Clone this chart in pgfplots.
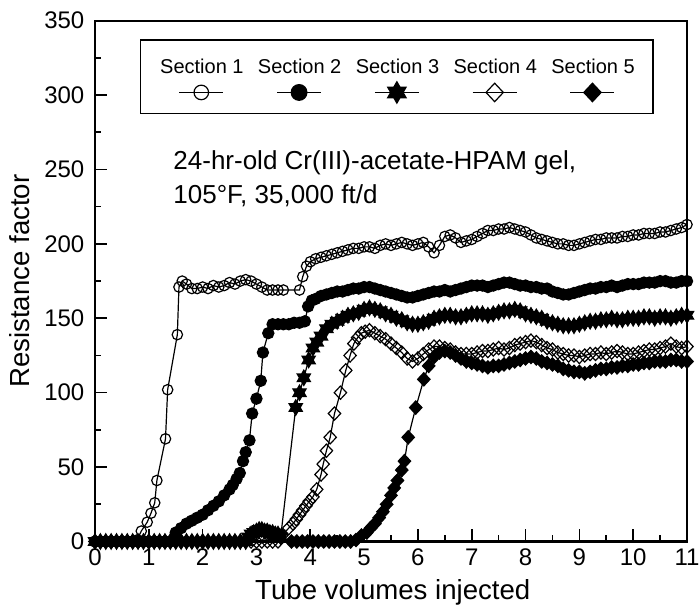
\documentclass[border=0pt]{standalone}
\usepackage{pgfplots}
\pgfplotsset{compat=1.18}
\usepackage{fontspec}
\setmainfont{Liberation Sans}

% six-pointed filled star for section 3
\pgfdeclareplotmark{hexstar}{%
  \pgfpathmoveto{\pgfqpointpolar{90}{\pgfplotmarksize}}%
  \pgfpathlineto{\pgfqpointpolar{210}{\pgfplotmarksize}}%
  \pgfpathlineto{\pgfqpointpolar{330}{\pgfplotmarksize}}%
  \pgfpathclose
  \pgfpathmoveto{\pgfqpointpolar{270}{\pgfplotmarksize}}%
  \pgfpathlineto{\pgfqpointpolar{30}{\pgfplotmarksize}}%
  \pgfpathlineto{\pgfqpointpolar{150}{\pgfplotmarksize}}%
  \pgfpathclose
  \pgfusepathqfillstroke}

\begin{document}
\begin{tikzpicture}
  \begin{axis}[
    scale only axis,
    width=296pt, height=260.4pt,
    xmin=0, xmax=11, ymin=0, ymax=350,
    xtick={0,1,...,11}, ytick={0,50,...,350},
    minor x tick num=1, minor y tick num=1,
    tick align=inside, xtick pos=bottom, ytick pos=left,
    major tick length=6pt, minor tick length=3pt,
    tick style={black, line width=0.8pt},
    axis line style={line width=1.1pt},
    /pgf/number format/assume math mode=true,
    ticklabel style={font=\fontsize{12}{14}\selectfont},
    yticklabel style={xshift=-1.8pt},
    xlabel={Tube volumes injected},
    ylabel={Resistance factor},
    label style={font=\fontsize{13.8}{16}\selectfont},
    xlabel style={at={(axis description cs:0.503,-0.1123)}, anchor=base},
    ylabel style={at={(axis description cs:-0.11,0.5)}, anchor=base},
    clip=false,
    legend columns=5,
    legend image code/.code={%
      \path (0pt,9pt) (0pt,-20pt);
      \draw[overlay,mark repeat=2,mark phase=2,#1,/tikz/every mark/.append style={scale=1.4}]
        plot coordinates {(9.85pt,-13.25pt)(20.85pt,-13.25pt)(31.85pt,-13.25pt)};
    },
    legend style={
      at={(0.0755,0.964)}, anchor=north west,
      draw=black, line width=0.9pt,
      inner xsep=9.2pt, inner ysep=3.5pt,
      column sep=0pt,
      font=\fontsize{10}{12}\selectfont,
      cells={anchor=west},
      nodes={inner xsep=0pt, inner ysep=0pt, text depth=0pt},
      /tikz/every even column/.append style={column sep=6.6pt}},
  ]
    \coordinate (sw) at (rel axis cs:0,0);
    \coordinate (ne) at (rel axis cs:1,1);

    % Section 1
    \addplot[black, line width=0.6pt, mark=o, mark size=2.6pt, mark options={line width=0.6pt}] coordinates {
      (0,0)(0.1,0)(0.2,0)(0.3,0)(0.4,0)(0.5,0)(0.6,0)(0.7,0)(0.78,1)(0.86,7)(0.97,13)(1.04,19)(1.11,26)(1.15,41)
      (1.31,69)(1.35,102)(1.53,139)(1.56,171)(1.62,175)(1.7,173)(1.8,170)(1.9,170)(2.0,171)(2.1,170)(2.2,172)
      (2.3,171)(2.4,172)(2.5,174)(2.6,173)(2.7,175)(2.8,176)(2.9,175)(3.0,173)(3.1,171)(3.2,169)(3.3,169)
      (3.4,169)(3.5,169)(3.8,169)(3.86,178)(3.93,185)(4.0,188)(4.1,190)(4.2,191)(4.3,192)(4.4,193)(4.5,194)
      (4.6,195)(4.7,196)(4.8,197)(4.9,197)(5.0,198)(5.1,198)(5.2,197)(5.3,199)(5.4,200)(5.5,199)(5.6,200)
      (5.7,201)(5.8,200)(5.9,199)(6.0,200)(6.1,201)(6.2,198)(6.3,194)(6.4,199)(6.5,205)(6.6,206)(6.7,204)
      (6.8,201)(6.9,202)(7.0,203)(7.1,205)(7.2,207)(7.3,209)(7.4,209)(7.5,210)(7.6,210)(7.7,211)(7.8,210)
      (7.9,209)(8.0,208)(8.1,206)(8.2,204)(8.3,203)(8.4,202)(8.5,201)(8.6,200)(8.7,200)(8.8,199)(8.9,199)
      (9.0,200)(9.1,201)(9.2,202)(9.3,203)(9.4,203)(9.5,204)(9.6,204)(9.7,204)(9.8,205)(9.9,205)(10.0,206)
      (10.1,206)(10.2,207)(10.3,207)(10.4,207)(10.5,208)(10.6,208)(10.7,209)(10.8,210)(10.9,211)(11.0,213)
    };
    \addlegendentry{Section 1}

    % Section 2
    \addplot[black, line width=0.6pt, mark=*, mark size=2.8pt] coordinates {
      (0,0)(0.1,0)(0.2,0)(0.3,0)(0.4,0)(0.5,0)(0.6,0)(0.7,0)(0.8,0)(0.9,0)(1.0,0)(1.1,0)(1.2,0)(1.3,0)(1.4,0)
      (1.5,6)(1.6,9)(1.7,12)(1.8,14)(1.9,16)(2.0,18)(2.1,21)(2.2,24)(2.3,27)(2.4,31)(2.5,35)(2.56,38)(2.63,42)
      (2.69,46)(2.75,54)(2.8,60)(2.87,68)(2.92,86)(3.0,96)(3.08,108)(3.12,127)(3.22,140)(3.3,146)(3.4,146)
      (3.5,146)(3.6,146)(3.7,147)(3.8,147)(3.9,148)(3.96,158)(4.03,162)(4.1,163)(4.2,165)(4.3,166)(4.4,167)
      (4.5,168)(4.6,168)(4.7,169)(4.8,170)(4.9,170)(5.0,171)(5.1,171)(5.2,170)(5.3,169)(5.4,168)(5.5,167)
      (5.6,166)(5.7,165)(5.8,164)(5.9,164)(6.0,165)(6.1,166)(6.2,167)(6.3,168)(6.4,168)(6.5,169)(6.6,168)
      (6.7,169)(6.8,170)(6.9,171)(7.0,172)(7.1,172)(7.2,172)(7.3,171)(7.4,172)(7.5,173)(7.6,174)(7.7,174)
      (7.8,173)(7.9,172)(8.0,172)(8.1,171)(8.2,171)(8.3,170)(8.4,170)(8.5,168)(8.6,167)(8.7,166)(8.8,166)
      (8.9,167)(9.0,168)(9.1,169)(9.2,170)(9.3,170)(9.4,171)(9.5,171)(9.6,172)(9.7,171)(9.8,172)(9.9,173)
      (10.0,173)(10.1,173)(10.2,174)(10.3,174)(10.4,174)(10.5,175)(10.6,175)(10.7,174)(10.8,174)(10.9,175)(11.0,175)
    };
    \addlegendentry{Section 2}

    % Section 3
    \addplot[black, line width=0.6pt, mark=hexstar, mark size=3.8pt] coordinates {
      (0,0)(0.1,0)(0.2,0)(0.3,0)(0.4,0)(0.5,0)(0.6,0)(0.7,0)(0.8,0)(0.9,0)(1.0,0)(1.1,0)(1.2,0)(1.3,0)(1.4,0)
      (1.5,0)(1.6,0)(1.7,0)(1.8,0)(1.9,0)(2.0,0)(2.1,0)(2.2,0)(2.3,0)(2.4,0)(2.5,0)(2.6,0)(2.7,0)(2.8,0)
      (2.85,3)(2.9,5)(2.95,6)(3.0,7)(3.05,8)(3.1,8)(3.15,7)(3.2,7)(3.25,6)(3.3,6)(3.35,5)(3.4,5)(3.45,3)
      (3.73,90)(3.8,100)(3.88,110)(3.97,122)(4.05,130)(4.12,134)(4.2,138)(4.3,143)(4.4,146)(4.5,148)(4.6,150)
      (4.7,152)(4.8,153)(4.9,154)(5.0,156)(5.1,157)(5.2,156)(5.3,155)(5.4,153)(5.5,152)(5.6,150)(5.7,149)
      (5.8,147)(5.9,146)(6.0,146)(6.1,147)(6.2,148)(6.3,150)(6.4,151)(6.5,152)(6.6,152)(6.7,151)(6.8,151)
      (6.9,152)(7.0,153)(7.1,153)(7.2,153)(7.3,152)(7.4,153)(7.5,154)(7.6,155)(7.7,155)(7.8,156)(7.9,155)
      (8.0,153)(8.1,152)(8.2,151)(8.3,150)(8.4,148)(8.5,147)(8.6,146)(8.7,145)(8.8,145)(8.9,145)(9.0,146)
      (9.1,147)(9.2,148)(9.3,148)(9.4,149)(9.5,149)(9.6,150)(9.7,149)(9.8,149)(9.9,150)(10.0,150)(10.1,150)
      (10.2,151)(10.3,151)(10.4,150)(10.5,151)(10.6,151)(10.7,150)(10.8,151)(10.9,152)(11.0,152)
    };
    \addlegendentry{Section 3}

    % Section 4
    \addplot[black, line width=0.6pt, mark=diamond, mark size=3.3pt, mark options={xscale=1.25, line width=0.6pt}] coordinates {
      (0,0)(0.1,0)(0.2,0)(0.3,0)(0.4,0)(0.5,0)(0.6,0)(0.7,0)(0.8,0)(0.9,0)(1.0,0)(1.1,0)(1.2,0)(1.3,0)(1.4,0)
      (1.5,0)(1.6,0)(1.7,0)(1.8,0)(1.9,0)(2.0,0)(2.1,0)(2.2,0)(2.3,0)(2.4,0)(2.5,0)(2.6,0)(2.7,0)(2.8,0)
      (2.9,0)(3.0,0)(3.1,0)(3.2,0)(3.3,0)(3.4,0)(3.47,4)(3.6,9)(3.68,12)(3.74,15)(3.8,18)(3.86,21)(3.92,24)
      (3.98,27)(4.05,30)(4.12,35)(4.2,45)(4.24,52)(4.3,61)(4.37,70)(4.45,86)(4.56,100)(4.66,115)(4.74,125)
      (4.81,133)(4.88,137)(4.95,140)(5.02,141)(5.1,142)(5.2,140)(5.3,138)(5.4,136)(5.5,133)(5.6,130)(5.7,127)
      (5.8,123)(5.9,121)(6.0,123)(6.1,126)(6.2,129)(6.3,131)(6.4,131)(6.5,130)(6.6,129)(6.7,127)(6.8,126)
      (6.9,126)(7.0,126)(7.1,127)(7.2,128)(7.3,128)(7.4,129)(7.5,130)(7.6,129)(7.7,130)(7.8,132)(7.9,133)
      (8.0,134)(8.1,135)(8.2,134)(8.3,132)(8.4,130)(8.5,129)(8.6,127)(8.7,126)(8.8,125)(8.9,125)(9.0,124)
      (9.1,125)(9.2,126)(9.3,126)(9.4,127)(9.5,126)(9.6,127)(9.7,128)(9.8,127)(9.9,126)(10.0,126)(10.1,127)
      (10.2,128)(10.3,129)(10.4,129)(10.5,130)(10.6,131)(10.7,133)(10.8,131)(10.9,130)(11.0,131)
    };
    \addlegendentry{Section 4}

    % Section 5
    \addplot[black, line width=0.6pt, mark=diamond*, mark size=3.3pt, mark options={xscale=1.25}] coordinates {
      (3.65,0)(3.75,0)(3.85,0)(3.95,0)(4.05,0)(4.15,0)(4.25,0)(4.35,0)(4.45,0)(4.55,0)(4.65,0)(4.75,0)
      (4.85,1)(4.95,4)(5.05,6)(5.12,9)(5.2,12)(5.28,16)(5.35,20)(5.42,25)(5.5,31)(5.56,36)(5.62,41)(5.7,48)
      (5.75,54)(5.82,70)(5.96,90)(6.11,109)(6.2,118)(6.3,124)(6.4,127)(6.5,128)(6.6,127)(6.7,125)(6.8,123)
      (6.9,121)(7.0,120)(7.1,119)(7.2,118)(7.3,117)(7.4,118)(7.5,118)(7.6,119)(7.7,120)(7.8,121)(7.9,122)
      (8.0,123)(8.1,124)(8.2,123)(8.3,121)(8.4,120)(8.5,119)(8.6,118)(8.7,116)(8.8,115)(8.9,114)(9.0,114)
      (9.1,113)(9.2,114)(9.3,115)(9.4,116)(9.5,116)(9.6,117)(9.7,117)(9.8,118)(9.9,118)(10.0,119)(10.1,119)
      (10.2,120)(10.3,120)(10.4,121)(10.5,121)(10.6,121)(10.7,122)(10.8,122)(10.9,121)(11.0,121)
    };
    \addlegendentry{Section 5}

    \node[anchor=base west, inner sep=0pt, font=\fontsize{13}{16}\selectfont] at (axis cs:1.45,249.7) {24-hr-old Cr(III)-acetate-HPAM gel,};
    \node[anchor=base west, inner sep=0pt, font=\fontsize{13}{16}\selectfont] at (axis cs:1.45,227.3) {105°F, 35,000 ft/d};
  \end{axis}
  \pgfresetboundingbox
  \path ([shift={(-47.5pt,-33.25pt)}]sw) rectangle ([shift={(6.5pt,10.35pt)}]ne);
\end{tikzpicture}
\end{document}
